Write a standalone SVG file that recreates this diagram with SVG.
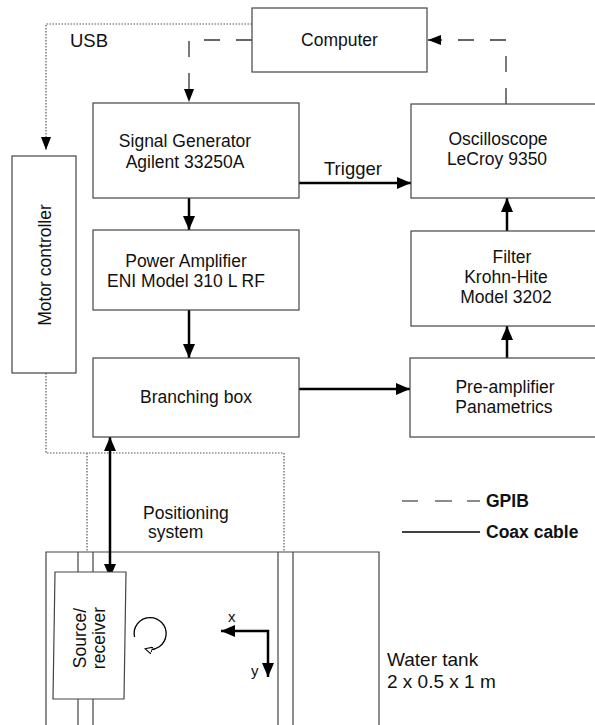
<svg xmlns="http://www.w3.org/2000/svg" width="595" height="725" viewBox="0 0 595 725">
<defs>
<style>
.box{fill:#fff;stroke:#444;stroke-width:1.2}
.t{font-family:"Liberation Sans",Arial,sans-serif;font-size:17.5px;fill:#111;text-anchor:middle}
.tl{font-family:"Liberation Sans",Arial,sans-serif;fill:#111}
.b{font-weight:bold;font-size:17.5px}
.coax{fill:none;stroke:#000;stroke-width:2.5}
.gpib{fill:none;stroke:#333;stroke-width:1.3;stroke-dasharray:16,16}
.usb{fill:none;stroke:#555;stroke-width:1.2;stroke-dasharray:1.5,1.5}
.thin{fill:none;stroke:#444;stroke-width:1.2}
</style>
<marker id="ah" markerUnits="userSpaceOnUse" markerWidth="14" markerHeight="12" viewBox="0 0 14 12" refX="14" refY="6" orient="auto-start-reverse">
<path d="M0,0 L14,6 L0,12 Z" fill="#000"/>
</marker>
<marker id="ahs" markerUnits="userSpaceOnUse" markerWidth="13" markerHeight="10" viewBox="0 0 13 10" refX="13" refY="5" orient="auto">
<path d="M0,0 L13,5 L0,10 Z" fill="#000"/>
</marker>
<marker id="ao" markerUnits="userSpaceOnUse" markerWidth="8" markerHeight="8" viewBox="0 0 8 8" refX="6" refY="4" orient="auto">
<path d="M0,0.5 L7,4 L0,7.5 Z" fill="#fff" stroke="#000" stroke-width="1"/>
</marker>
</defs>

<g id="water-tank">
<path class="thin" d="M46,725 V552 H379 V725"/>
<path class="thin" d="M78,552 V572 M93,552 V572 M78,699 V725 M93,699 V725 M278,552 V725 M293,552 V725"/>
<text class="tl" font-size="19" x="387" y="666">Water tank</text>
<text class="tl" font-size="19" x="387" y="688">2 x 0.5 x 1 m</text>
</g>

<g id="connectors">
<path class="gpib" d="M252,40 H189 V102" marker-end="url(#ahs)"/>
<path class="gpib" d="M506,104 V40 H428" marker-end="url(#ahs)"/>
<path class="usb" d="M252,24 H46 V150" marker-end="url(#ahs)"/>
<path class="usb" d="M46,373 V453 H284 V552 M87,453 V552"/>
<path class="coax" d="M189,198 V230" marker-end="url(#ah)"/>
<path class="coax" d="M189,310 V358" marker-end="url(#ah)"/>
<path class="coax" d="M299,183 H411" marker-end="url(#ah)"/>
<path class="coax" d="M299,389 H410" marker-end="url(#ah)"/>
<path class="coax" d="M507,358 V326" marker-end="url(#ah)"/>
<path class="coax" d="M507,231 V198" marker-end="url(#ah)"/>
<path class="coax" d="M110,437 V578" marker-start="url(#ah)" marker-end="url(#ah)"/>
<text class="tl" font-size="18.5" x="324" y="175">Trigger</text>
<text class="tl" font-size="18.5" x="70" y="47">USB</text>
</g>

<g id="computer">
<rect class="box" x="252" y="8" width="175" height="64"/>
<text class="t" x="339.5" y="46">Computer</text>
</g>

<g id="motor-controller">
<rect class="box" x="12" y="156" width="64" height="217"/>
<text class="t" transform="translate(51,265) rotate(-90)">Motor controller</text>
</g>

<g id="signal-generator">
<rect class="box" x="93" y="103" width="206" height="95"/>
<text class="t" x="185" y="147">Signal Generator</text>
<text class="t" x="185" y="168">Agilent 33250A</text>
</g>

<g id="power-amplifier">
<rect class="box" x="93" y="230" width="206" height="80"/>
<text class="t" x="186" y="267">Power Amplifier</text>
<text class="t" x="186" y="287">ENI Model 310 L RF</text>
</g>

<g id="branching-box">
<rect class="box" x="93" y="358" width="206" height="79"/>
<text class="t" x="196" y="403">Branching box</text>
</g>

<g id="oscilloscope">
<rect class="box" x="411" y="104" width="187" height="94"/>
<text class="t" x="498" y="145">Oscilloscope</text>
<text class="t" x="497" y="165">LeCroy 9350</text>
</g>

<g id="filter">
<rect class="box" x="411" y="231" width="187" height="95"/>
<text class="t" x="512" y="263">Filter</text>
<text class="t" x="506" y="283">Krohn-Hite</text>
<text class="t" x="506" y="303">Model 3202</text>
</g>

<g id="pre-amplifier">
<rect class="box" x="410" y="358" width="188" height="79"/>
<text class="t" x="505" y="393">Pre-amplifier</text>
<text class="t" x="504" y="413">Panametrics</text>
</g>

<g id="positioning-system">
<text class="tl" font-size="17.5" x="143" y="519">Positioning</text>
<text class="tl" font-size="17.5" x="148" y="538">system</text>
</g>

<g id="source-receiver">
<polygon class="box" points="55,572 126,572 124,699 53,699"/>
<text class="t" font-size="17" transform="translate(86,638) rotate(-90)">Source/</text>
<text class="t" font-size="17" transform="translate(105,638) rotate(-90)">receiver</text>
</g>

<g id="rotation">
<path d="M134.5,637 A16,16 0 1 1 146,649" fill="none" stroke="#000" stroke-width="1.3" marker-end="url(#ao)"/>
</g>

<g id="axes">
<path class="coax" d="M221,631 H268 V677" marker-start="url(#ah)" marker-end="url(#ah)"/>
<text class="tl" font-size="15" x="228" y="622">x</text>
<text class="tl" font-size="15" x="251" y="676">y</text>
</g>

<g id="legend">
<path d="M402,501 H418 M435,501 H452 M467,501 H480" stroke="#666" stroke-width="1.3" fill="none"/>
<text class="tl b" x="486" y="507">GPIB</text>
<path d="M402,532 H480" stroke="#000" stroke-width="1.5" fill="none"/>
<text class="tl b" x="486" y="538">Coax cable</text>
</g>
</svg>
